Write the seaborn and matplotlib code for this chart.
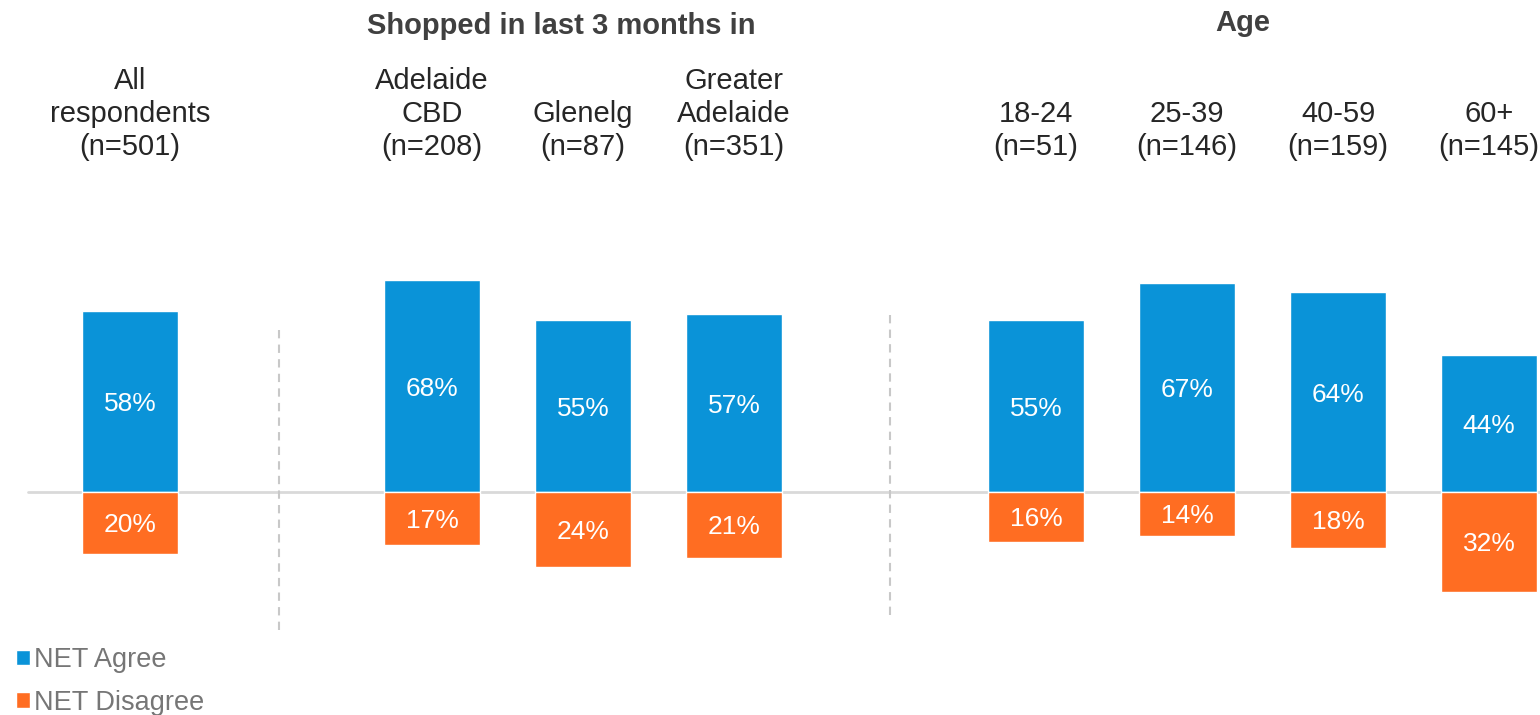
import pandas as pd
import matplotlib
matplotlib.use('Agg')
import matplotlib.pyplot as plt
import seaborn as sns
from matplotlib.patches import Patch

# data
groups = ['All\nrespondents\n(n=501)', 'Adelaide\nCBD\n(n=208)', 'Glenelg\n(n=87)',
          'Greater\nAdelaide\n(n=351)', '18-24\n(n=51)', '25-39\n(n=146)',
          '40-59\n(n=159)', '60+\n(n=145)']
slots = [0, 2, 3, 4, 6, 7, 8, 9]
net_agree = [58, 68, 55, 57, 55, 67, 64, 44]
net_disagree = [20, 17, 24, 21, 16, 14, 18, 32]

blue = '#0A93D8'
orange = '#FF6D22'

df = pd.DataFrame({'slot': slots, 'agree': net_agree,
                   'disagree': [-v for v in net_disagree]})

sns.set_style('white')
plt.rcParams['font.family'] = ['Liberation Sans', 'DejaVu Sans']

fig = plt.figure(figsize=(15.4, 7.15), dpi=100)
ax = fig.add_axes([0, 0, 1, 1])

sns.barplot(data=df, x='slot', y='agree', native_scale=True, width=0.63,
            color=blue, saturation=1, ax=ax)
sns.barplot(data=df, x='slot', y='disagree', native_scale=True, width=0.63,
            color=orange, saturation=1, ax=ax)

# pixel mapping: x = 130 + 151*slot, y = 492 - 3.12*value
ax.set_xlim(-130 / 151, 1410 / 151)
ax.set_ylim(-223 / 3.12, 492 / 3.12)
ax.axis('off')

# baseline
ax.plot([-102 / 151, 1410 / 151], [0, 0], color='#D9D9D9', lw=2, zorder=0)

# dashed separators
ax.plot([0.99, 0.99], [51.9, -44.9], color='#C8C8C8', lw=1.5, ls=(0, (4, 3)))
ax.plot([5.03, 5.03], [56.7, -40.1], color='#C8C8C8', lw=1.5, ls=(0, (4, 3)))

# value labels
for s, a, d in zip(slots, net_agree, net_disagree):
    ax.text(s, a / 2 - 0.9, f'{a}%', ha='center', va='center', color='white', fontsize=19)
    ax.text(s, -d / 2 - 0.7, f'{d}%', ha='center', va='center', color='white', fontsize=19)

# category labels
for s, g in zip(slots, groups):
    ax.text(s, (492 - 161) / 3.12, g, ha='center', va='bottom', color='#262626',
            fontsize=21, linespacing=1.22)

# group headers
ax.text(2.854, (492 - 26) / 3.12, 'Shopped in last 3 months in', ha='center', va='center',
        color='#404040', fontsize=21, fontweight='bold')
ax.text(7.37, (492 - 23) / 3.12, 'Age', ha='center', va='center',
        color='#404040', fontsize=21, fontweight='bold')

handles = [Patch(facecolor=blue), Patch(facecolor=orange)]
fig.legend(handles, ['NET Agree', 'NET Disagree'], loc='upper left',
           bbox_to_anchor=(0.0035, 1 - 636 / 715), frameon=False, fontsize=19.5,
           labelcolor='#767676', handlelength=0.5, handleheight=0.5,
           handletextpad=0.15, labelspacing=0.62, borderaxespad=0)

fig.savefig('out.png', dpi=100)
